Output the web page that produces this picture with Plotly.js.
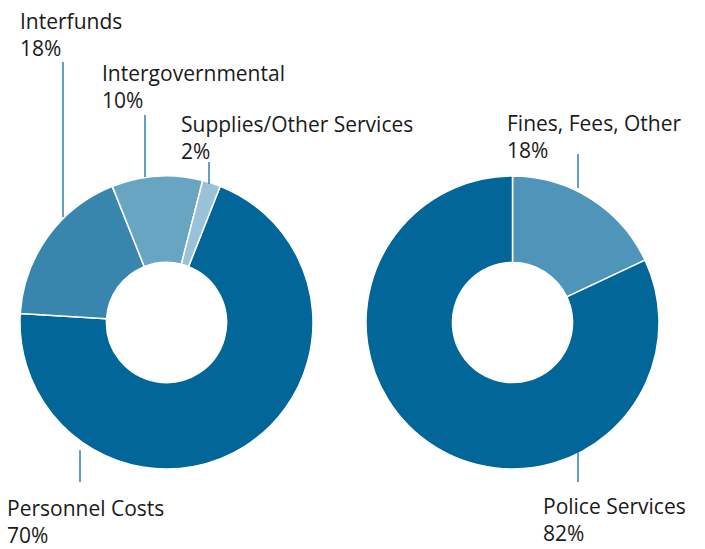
<!DOCTYPE html>
<html>
<head>
<meta charset="utf-8">
<script src="https://cdn.plot.ly/plotly-3.0.1.min.js"></script>
<style>html,body{margin:0;padding:0;background:#fff;}#chart{width:705px;height:549px;}</style>
</head>
<body>
<div id="chart"></div>
<script>
var expenseLabels = ["Personnel Costs", "Interfunds", "Intergovernmental", "Supplies/Other Services"];
var expenseValues = [70, 18, 10, 2];
var expenseColors = ["#026698", "#3886ad", "#67a5c3", "#99c2d8"];

var revenueLabels = ["Fines, Fees, Other", "Police Services"];
var revenueValues = [18, 82];
var revenueColors = ["#4f95ba", "#026698"];

var W = 705, H = 549;
function px(x) { return x / W; }
function py(y) { return 1 - y / H; }

var FONT = "Open Sans, sans-serif";
var textColor = "#1a1a1a";
var lineColor = "#2f7fb0";

var traces = [
  {
    type: "pie", labels: expenseLabels, values: expenseValues,
    marker: {colors: expenseColors, line: {color: "#ffffff", width: 1.5}},
    hole: 0.41, sort: false, direction: "clockwise", rotation: 21.5,
    textinfo: "none", hoverinfo: "label+percent",
    domain: {x: [px(20), px(313)], y: [py(469), py(176)]}
  },
  {
    type: "pie", labels: revenueLabels, values: revenueValues,
    marker: {colors: revenueColors, line: {color: "#ffffff", width: 1.5}},
    hole: 0.41, sort: false, direction: "clockwise", rotation: 0,
    textinfo: "none", hoverinfo: "label+percent",
    domain: {x: [px(366), px(659)], y: [py(469), py(176)]}
  }
];

function pct(v) { return v + "%"; }
var labelPos = [
  {t: expenseLabels[1], v: expenseValues[1], x: 18, y: 34},
  {t: expenseLabels[2], v: expenseValues[2], x: 100, y: 87},
  {t: expenseLabels[3], v: expenseValues[3], x: 179, y: 137},
  {t: expenseLabels[0], v: expenseValues[0], x: 5, y: 521},
  {t: revenueLabels[0], v: revenueValues[0], x: 505, y: 136},
  {t: revenueLabels[1], v: revenueValues[1], x: 541, y: 519}
];
var annotations = labelPos.map(function (a) {
  return {
    xref: "paper", yref: "paper", x: px(a.x), y: py(a.y),
    xanchor: "left", yanchor: "middle", align: "left", showarrow: false,
    text: a.t + "<br>" + pct(a.v),
    font: {family: FONT, size: 21, color: textColor}
  };
});

var leaders = [
  [63, 62, 217], [145, 115, 177], [209, 162, 184],
  [80, 450, 482], [578, 154, 188], [578, 452, 482]
];
var shapes = leaders.map(function (l) {
  return {type: "line", xref: "paper", yref: "paper",
    x0: px(l[0]), x1: px(l[0]), y0: py(l[1]), y1: py(l[2]),
    line: {color: lineColor, width: 1.5}};
});

var layout = {
  width: W, height: H,
  margin: {l: 0, r: 0, t: 0, b: 0},
  paper_bgcolor: "#ffffff", plot_bgcolor: "#ffffff",
  showlegend: false,
  font: {family: FONT},
  annotations: annotations,
  shapes: shapes
};

Plotly.newPlot("chart", traces, layout, {displayModeBar: false, staticPlot: true});
</script>
</body>
</html>
